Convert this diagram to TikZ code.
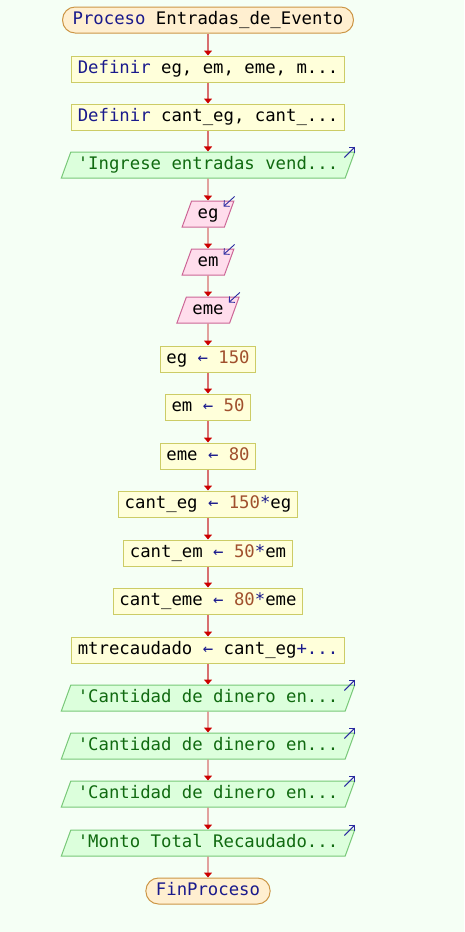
\documentclass[tikz,border=0pt]{standalone}
\usepackage{fontspec,xcolor,tikz}
\usetikzlibrary{arrows.meta,shapes.geometric}
\setmonofont{DejaVu Sans Mono}
\definecolor{fondo}{HTML}{F5FFF5}
\definecolor{kwblue}{HTML}{1A1A8C}
\definecolor{nrobrown}{HTML}{A0502D}
\definecolor{salgreen}{HTML}{106A10}
\definecolor{lineared}{HTML}{D87070}
\definecolor{tipred}{HTML}{CC0000}
\definecolor{icoblue}{HTML}{2A2AA0}
\newcommand{\kw}[1]{\textcolor{kwblue}{#1}}
\newcommand{\nro}[1]{\textcolor{nrobrown}{#1}}
\newcommand{\asig}{\textcolor{kwblue}{←}}

\tikzset{
  base/.style={font=\ttfamily\fontsize{17.3}{20}\selectfont,line width=1pt,
    text height=12.5pt,text depth=3.5pt,inner ysep=5pt,inner xsep=6pt},
  term/.style={base,draw={rgb,255:red,204;green,150;blue,70},fill={rgb,255:red,255;green,239;blue,208},
    rounded corners=12.5pt,inner xsep=10pt},
  proc/.style={base,draw={rgb,255:red,204;green,204;blue,102},fill={rgb,255:red,255;green,255;blue,218}},
  sal/.style={base,trapezium,trapezium left angle=70,trapezium right angle=110,inner xsep=7pt,
    draw={rgb,255:red,120;green,200;blue,120},fill={rgb,255:red,220;green,255;blue,220},text=salgreen},
  ent/.style={base,trapezium,trapezium left angle=70,trapezium right angle=110,
    draw={rgb,255:red,204;green,102;blue,150},fill={rgb,255:red,255;green,221;blue,236}},
  flow/.style={->,draw=lineared,line width=1.3pt},
  ico/.style={-{Straight Barb[length=4pt,width=8pt]},draw=icoblue,line width=0.9pt}
}

\begin{document}
\begin{tikzpicture}[x=1pt,y=-1pt,>={Triangle[width=8pt,length=5pt,color=tipred]}]
 \fill[fondo] (0,0) rectangle (464,932);
 \useasboundingbox (0,0) rectangle (464,932);
 % nodos
 \node[term] (ini) at (208,20) {\kw{Proceso} Entradas\_de\_Evento};
 \node[proc] (def1) at (208,69) {\kw{Definir} eg, em, eme, m...};
 \node[proc] (def2) at (208,117) {\kw{Definir} cant\_eg, cant\_...};
 \node[sal] (esc1) at (208,165) {'Ingrese entradas vend...};
 \node[ent] (leg) at (208,214) {eg};
 \node[ent] (lem) at (208,262) {em};
 \node[ent] (leme) at (208,310) {eme};
 \node[proc] (a1) at (208,359) {eg \asig{} \nro{150}};
 \node[proc] (a2) at (208,407) {em \asig{} \nro{50}};
 \node[proc] (a3) at (208,456) {eme \asig{} \nro{80}};
 \node[proc] (a4) at (208,504) {cant\_eg \asig{} \nro{150}\kw{*}eg};
 \node[proc] (a5) at (208,553) {cant\_em \asig{} \nro{50}\kw{*}em};
 \node[proc] (a6) at (208,601) {cant\_eme \asig{} \nro{80}\kw{*}eme};
 \node[proc] (a7) at (208,650) {mtrecaudado \asig{} cant\_eg\kw{+...}};
 \node[sal] (esc2) at (208,698) {'Cantidad de dinero en...};
 \node[sal] (esc3) at (208,746) {'Cantidad de dinero en...};
 \node[sal] (esc4) at (208,794) {'Cantidad de dinero en...};
 \node[sal] (esc5) at (208,843) {'Monto Total Recaudado...};
 \node[term] (fin) at (208,891) {\kw{FinProceso}};
 % flechas
 \draw[flow] (ini) -- (def1);
 \draw[flow] (def1) -- (def2);
 \draw[flow] (def2) -- (esc1);
 \draw[flow] (esc1) -- (leg);
 \draw[flow] (leg) -- (lem);
 \draw[flow] (lem) -- (leme);
 \draw[flow] (leme) -- (a1);
 \draw[flow] (a1) -- (a2);
 \draw[flow] (a2) -- (a3);
 \draw[flow] (a3) -- (a4);
 \draw[flow] (a4) -- (a5);
 \draw[flow] (a5) -- (a6);
 \draw[flow] (a6) -- (a7);
 \draw[flow] (a7) -- (esc2);
 \draw[flow] (esc2) -- (esc3);
 \draw[flow] (esc3) -- (esc4);
 \draw[flow] (esc4) -- (esc5);
 \draw[flow] (esc5) -- (fin);
 % iconos de entrada/salida
 \draw[ico] ([shift={(-11,6)}]esc1.top right corner) -- ([shift={(0,-5)}]esc1.top right corner);
 \draw[ico] ([shift={(-11,6)}]esc2.top right corner) -- ([shift={(0,-5)}]esc2.top right corner);
 \draw[ico] ([shift={(-11,6)}]esc3.top right corner) -- ([shift={(0,-5)}]esc3.top right corner);
 \draw[ico] ([shift={(-11,6)}]esc4.top right corner) -- ([shift={(0,-5)}]esc4.top right corner);
 \draw[ico] ([shift={(-11,6)}]esc5.top right corner) -- ([shift={(0,-5)}]esc5.top right corner);
 \draw[ico] ([shift={(0,-4)}]leg.top right corner) -- ([shift={(-11,6)}]leg.top right corner);
 \draw[ico] ([shift={(0,-4)}]lem.top right corner) -- ([shift={(-11,6)}]lem.top right corner);
 \draw[ico] ([shift={(0,-4)}]leme.top right corner) -- ([shift={(-11,6)}]leme.top right corner);
\end{tikzpicture}
\end{document}
